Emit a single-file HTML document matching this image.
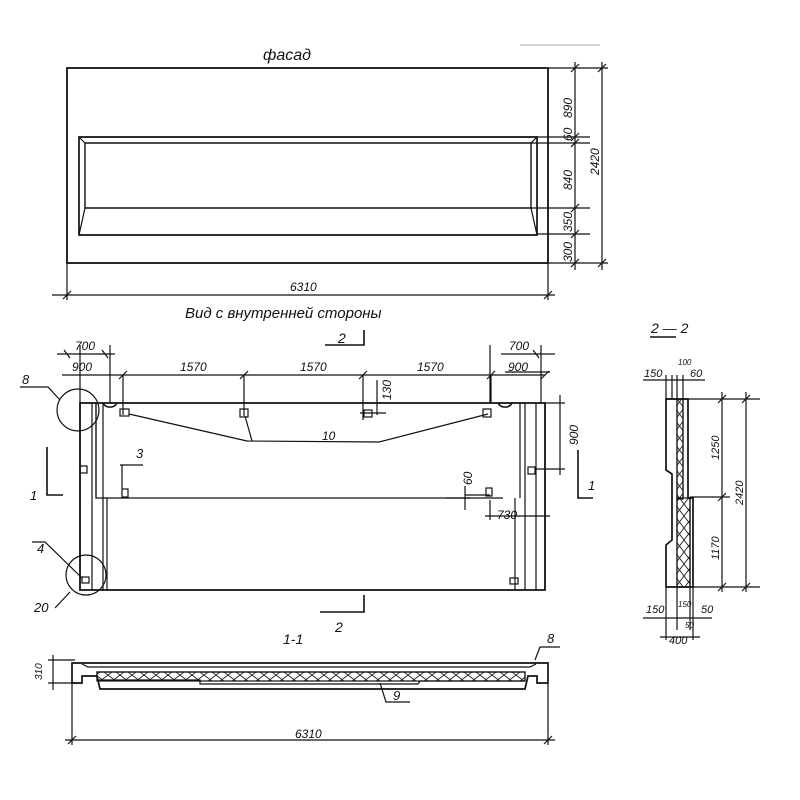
<!DOCTYPE html>
<html><head><meta charset="utf-8"><style>
html,body{margin:0;padding:0;background:#fff}
svg{display:block}
text{font-family:"Liberation Sans",sans-serif;font-style:italic;fill:#111}
</style></head><body>
<svg width="800" height="800" viewBox="0 0 800 800" xmlns="http://www.w3.org/2000/svg">
<defs>
<pattern id="h" width="12" height="9" patternUnits="userSpaceOnUse">
<path d="M0 0L12 9M12 0L0 9" stroke="#222" stroke-width="0.9"/>
</pattern>
<pattern id="hv" width="9" height="12" patternUnits="userSpaceOnUse">
<path d="M0 0L9 12M9 0L0 12" stroke="#222" stroke-width="0.9"/>
</pattern>
</defs>
<g fill="none" stroke="#111" stroke-width="1.2">
<!-- FACADE -->
<rect x="67" y="68" width="481" height="195" stroke-width="1.8"/>
<path d="M79 137H537V235H79Z" stroke-width="1.7"/>
<path d="M85 143H531V208H85Z" stroke-width="1.4"/>
<path d="M79 235L85 208M537 235L531 208M537 137L531 143M79 137L85 143"/>
<path d="M548 68H608M537 137H590M531 143H590M531 208H590M537 234H590M548 263H608"/>
<path d="M575 62V270M602 62V270"/>
<path d="M571 72L579 64M571 141L579 133M571 147L579 139M571 212L579 204M571 238L579 230M571 267L579 259M598 72L606 64M598 267L606 259"/>
<path d="M67 263V300M548 263V300M52 295H555M63 299L71 291M544 299L552 291"/>
<path d="M520 45H600" stroke="#bbb"/>

<!-- INNER VIEW -->
<path d="M80 403H545V590H80Z" stroke-width="1.8"/>
<path d="M92 403V590M103 403V590M107 498V590M96 403V498"/>
<path d="M96 403V498H503M520 403V498M515 498V590M525 403V590M536 403V590"/>
<path d="M103 403A8 8 0 0 0 117 403M498 403A8 8 0 0 0 512 403" stroke-width="1.6"/>
<rect x="120" y="409" width="9" height="7"/><rect x="240" y="409" width="8" height="8"/>
<rect x="364" y="410" width="8" height="7"/><rect x="483" y="409" width="8" height="8"/>
<rect x="80" y="466" width="7" height="7"/><rect x="122" y="489" width="6" height="8"/>
<rect x="486" y="488" width="6" height="8"/><rect x="528" y="467" width="7" height="7"/>
<rect x="82" y="577" width="7" height="6"/><rect x="510" y="578" width="8" height="6"/>
<path d="M129 414L247 441L379 442L488 414M245 416L252 441"/>
<text x="322" y="440" font-size="12" stroke="none">10</text>
<path d="M57 354H115M62 375H545M64 350L70 358M102 350L108 358M80 345V403M110 345V403M490 345V403M501 354H555M505 372H550"/>
<path d="M123 375V415M244 375V416M363 375V420M491 375V403M541 345V403M533 350L539 358"/>
<path d="M119 379L127 371M240 379L248 371M359 379L367 371M487 379L495 371M541 379L549 371"/>
<path d="M377 380V415M360 413H386"/>
<path d="M545 403H565M536 469H565M560 395V475"/>
<path d="M465 486V510M465 495H490M446 498H470M490 500V520M485 516H550"/>
<path d="M364 330V345H325" stroke-width="1.6"/>
<path d="M364 595V612H320" stroke-width="1.6"/>
<path d="M47 447V495H63M578 450V498H593" stroke-width="1.6"/>
<path d="M120 465H143M122 465V489"/>
<circle cx="78" cy="410" r="21"/><circle cx="86" cy="575" r="20"/>
<path d="M20 387H48L60 400M32 542H45L82 578M55 608L70 592"/>
<g stroke="none" font-size="12">
<text x="75" y="350">700</text><text x="72" y="371">900</text>
<text x="180" y="371">1570</text><text x="300" y="371">1570</text><text x="417" y="371">1570</text>
<text x="509" y="350">700</text><text x="508" y="371">900</text>
<text x="22" y="384" font-size="13">8</text><text x="136" y="458" font-size="13">3</text>
<text x="37" y="553" font-size="13">4</text><text x="34" y="612" font-size="13">20</text>
<text x="30" y="500" font-size="13">1</text><text x="588" y="490" font-size="13">1</text>
<text x="338" y="343" font-size="14">2</text><text x="335" y="632" font-size="14">2</text>
<text x="497" y="519">730</text>
<text transform="translate(391 400) rotate(-90)">130</text>
<text transform="translate(472 485) rotate(-90)">60</text>
<text transform="translate(578 445) rotate(-90)">900</text>
<text x="185" y="318" font-size="15">Вид  с  внутренней   стороны</text>
<text x="263" y="60" font-size="16">фасад</text>
<text x="290" y="291">6310</text>
<text transform="translate(572 118) rotate(-90)">890</text>
<text transform="translate(572 141) rotate(-90)">60</text>
<text transform="translate(572 190) rotate(-90)">840</text>
<text transform="translate(572 232) rotate(-90)">350</text>
<text transform="translate(572 262) rotate(-90)">300</text>
<text transform="translate(599 175) rotate(-90)">2420</text>
</g>

<!-- SECTION 1-1 -->
<path d="M72 663H548V683H537V676H528L525 689H100L97 676H82V683H72Z" stroke-width="1.7"/>
<path d="M82 664L88 667H530L536 664"/>
<rect x="97" y="672" width="428" height="9" fill="url(#h)"/>
<path d="M97 672H525V681H420L418 684H200V680H97Z"/>
<path d="M72 683V745M548 683V745M65 740H555M68 744L76 736M544 744L552 736"/>
<path d="M48 660H75M48 683H75M53 655V690"/>
<path d="M380 683L386 702H410M535 660L540 647H560"/>
<g stroke="none">
<text x="283" y="644" font-size="14">1-1</text>
<text x="295" y="738" font-size="12">6310</text>
<text x="393" y="700" font-size="13">9</text><text x="547" y="643" font-size="13">8</text>
<text transform="translate(42 680) rotate(-90)" font-size="10">310</text>
</g>

<!-- SECTION 2-2 -->
<path d="M650 337H676" stroke-width="1.4"/>
<path d="M666 399V470L672 474V540L666 545V587H693V498H688V399Z" stroke-width="1.7"/>
<rect x="677" y="399" width="6" height="100" fill="url(#hv)"/>
<rect x="677" y="498" width="13" height="89" fill="url(#hv)"/>
<path d="M677 399V587M683 399V498M690 498V587"/>
<path d="M666 399H760M690 497H730M693 587H760M722 392V592M746 392V592"/>
<path d="M718 403L726 395M718 501L726 493M718 591L726 583M742 403L750 395M742 591L750 583"/>
<path d="M643 380H705M666 375V399M672 375V399M677 375V399M683 375V399"/>
<path d="M643 618H712M666 587V640M677 587V630M690 587V630M693 587V640M660 637H700"/>
<g stroke="none" font-size="11">
<text x="651" y="333" font-size="14">2 — 2</text>
<text x="644" y="377">150</text><text x="678" y="365" font-size="8">100</text><text x="690" y="377">60</text>
<text x="646" y="613">150</text><text x="678" y="607" font-size="8">150</text><text x="701" y="613">50</text>
<text x="685" y="628" font-size="8">50</text><text x="669" y="644">400</text>
<text transform="translate(719 460) rotate(-90)">1250</text>
<text transform="translate(719 560) rotate(-90)">1170</text>
<text transform="translate(743 505) rotate(-90)">2420</text>
</g>
</g>
</svg>
</body></html>
